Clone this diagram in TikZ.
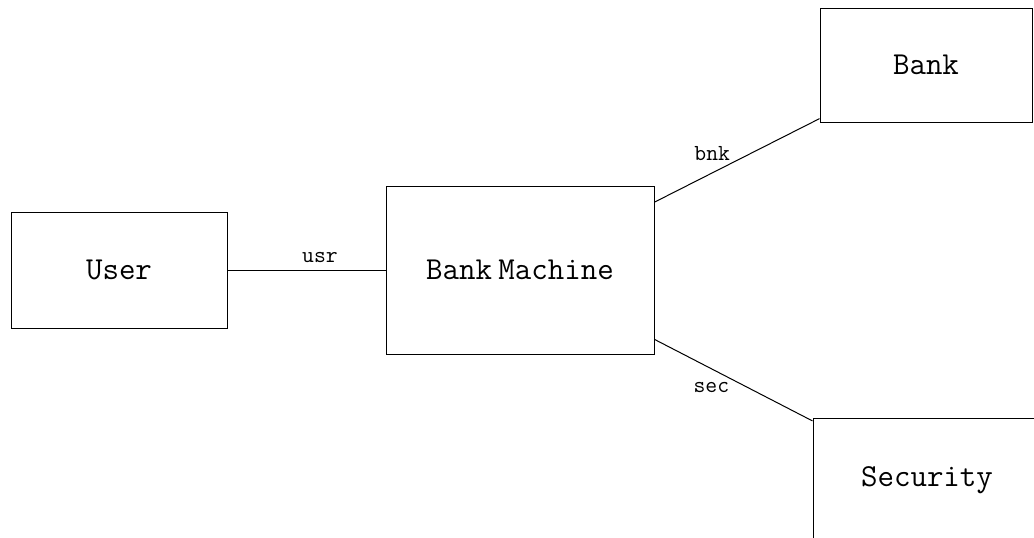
\documentclass[tikz,border=0pt]{standalone}
\begin{document}
\begin{tikzpicture}[x=0.5pt,y=-0.5pt,
  box/.style={draw, line width=0.5pt, inner sep=0pt, font=\fontsize{16}{19}\selectfont\ttfamily},
  conn/.style={line width=0.5pt},
  lbl/.style={font=\fontsize{11.5}{13}\selectfont\ttfamily, inner sep=0pt, anchor=center}]
\useasboundingbox (0,0) rectangle (1034,537);
\clip (0,0) rectangle (1034,537);
\node[box, minimum width=108pt, minimum height=58pt] (user) at (119,270) {User};
\node[box, minimum width=134pt, minimum height=84pt] (bm) at (520,270) {Bank\hspace{0.2em}Machine};
\node[box, minimum width=106pt, minimum height=57pt] (bank) at (926,65) {Bank};
\node[box, minimum width=114pt, minimum height=62pt] (sec) at (927,480) {Security};
\draw[conn] (user) -- node[lbl, pos=0.585, yshift=6.5pt] {usr} (bm);
\draw[conn] (bm) -- node[lbl, pos=0.35, yshift=9.5pt] {bnk} (bank);
\draw[conn] (bm) -- node[lbl, pos=0.36, yshift=-9.5pt] {sec} (sec);
\end{tikzpicture}
\end{document}
